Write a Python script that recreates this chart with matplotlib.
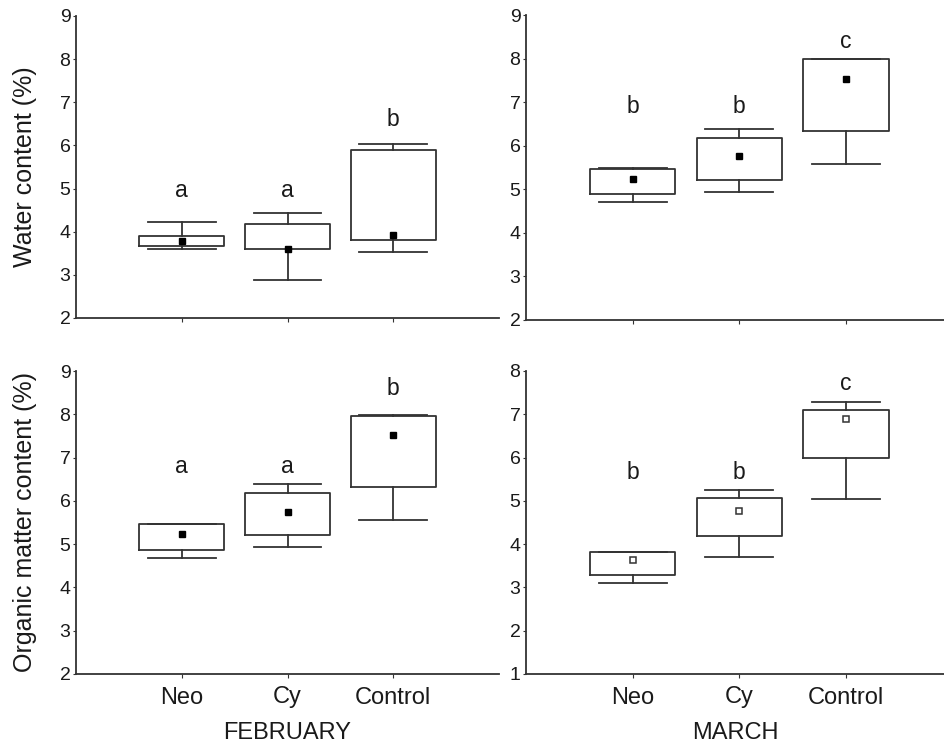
import matplotlib.pyplot as plt

plt.rcParams['font.family'] = ['Liberation Sans', 'DejaVu Sans']

groups = ["Neo", "Cy", "Control"]

# Feb water content
feb_w_lo = [3.61, 2.89, 3.52]
feb_w_q1 = [3.66, 3.59, 3.80]
feb_w_med = [3.79, 3.59, 3.93]
feb_w_q3 = [3.89, 4.19, 5.89]
feb_w_hi = [4.22, 4.44, 6.03]
feb_w_letters = ["a", "a", "b"]
feb_w_letter_y = [4.95, 4.95, 6.6]

# Mar water content
mar_w_lo = [4.70, 4.93, 5.58]
mar_w_q1 = [4.89, 5.22, 6.33]
mar_w_med = [5.24, 5.76, 7.52]
mar_w_q3 = [5.47, 6.18, 7.98]
mar_w_hi = [5.48, 6.39, 8.00]
mar_w_letters = ["b", "b", "c"]
mar_w_letter_y = [6.9, 6.9, 8.4]

# Feb organic matter
feb_o_lo = [4.69, 4.93, 5.56]
feb_o_q1 = [4.87, 5.22, 6.32]
feb_o_med = [5.24, 5.74, 7.51]
feb_o_q3 = [5.46, 6.17, 7.96]
feb_o_hi = [5.47, 6.38, 7.98]
feb_o_letters = ["a", "a", "b"]
feb_o_letter_y = [6.8, 6.8, 8.6]

# Mar organic matter
mar_o_lo = [3.10, 3.70, 5.04]
mar_o_q1 = [3.29, 4.19, 5.98]
mar_o_med = [3.63, 4.77, 6.89]
mar_o_q3 = [3.82, 5.07, 7.10]
mar_o_hi = [3.83, 5.26, 7.29]
mar_o_letters = ["b", "b", "c"]
mar_o_letter_y = [5.65, 5.65, 7.7]

c = "#333333"
tc = "#1a1a1a"
fig = plt.figure(figsize=(9.44, 7.49), dpi=100)


def panel(rect, xmax, lo, q1, med, q3, hi, letters, ly, ylim, ylabel, xlabel, filled):
    ax = fig.add_axes(rect)
    stats = []
    for i in range(3):
        stats.append(dict(whislo=lo[i], q1=q1[i], med=med[i], q3=q3[i], whishi=hi[i], fliers=[]))
    pos = [1, 2, 3]
    ax.bxp(stats, positions=pos, widths=0.8, showfliers=False,
           boxprops=dict(color=c, linewidth=1.3),
           whiskerprops=dict(color=c, linewidth=1.3),
           capprops=dict(color=c, linewidth=1.3),
           medianprops=dict(linewidth=0), capwidths=0.64)
    if filled:
        ax.plot(pos, med, "s", color="black", markersize=4.5, linestyle="none")
    else:
        ax.plot(pos, med, "s", markerfacecolor="white", markeredgecolor=c,
                markeredgewidth=1.1, markersize=4.5, linestyle="none")
    for i in range(3):
        ax.text(pos[i], ly[i], letters[i], ha="center", va="center", fontsize=16.5, color=tc)
    ax.set_xlim(0, xmax)
    ax.set_ylim(*ylim)
    ax.set_yticks(range(ylim[0], ylim[1] + 1))
    ax.set_xticks(pos)
    if xlabel:
        ax.set_xticklabels(groups, fontsize=17)
        ax.set_xlabel(xlabel, fontsize=17, labelpad=10, color=tc)
    else:
        ax.set_xticklabels([])
    if ylabel:
        ax.set_ylabel(ylabel, fontsize=18, labelpad=16, color=tc)
    ax.tick_params(axis="y", labelsize=14, length=2, pad=2, colors=c, labelcolor=tc)
    ax.tick_params(axis="x", length=3, pad=6, colors=c, labelcolor=tc)
    for s in ["top", "right"]:
        ax.spines[s].set_visible(False)
    for s in ["left", "bottom"]:
        ax.spines[s].set_color(c)
        ax.spines[s].set_linewidth(1.3)
    return ax


panel([76 / 944, 431 / 749, 423 / 944, 302 / 749], 4.0,
      feb_w_lo, feb_w_q1, feb_w_med, feb_w_q3, feb_w_hi, feb_w_letters, feb_w_letter_y,
      (2, 9), "Water content (%)", None, True)
panel([526 / 944, 429 / 749, 418 / 944, 305 / 749], 3.92,
      mar_w_lo, mar_w_q1, mar_w_med, mar_w_q3, mar_w_hi, mar_w_letters, mar_w_letter_y,
      (2, 9), None, None, True)
panel([76 / 944, 75 / 749, 423 / 944, 303 / 749], 4.0,
      feb_o_lo, feb_o_q1, feb_o_med, feb_o_q3, feb_o_hi, feb_o_letters, feb_o_letter_y,
      (2, 9), "Organic matter content (%)", "FEBRUARY", True)
panel([526 / 944, 75 / 749, 418 / 944, 303 / 749], 3.92,
      mar_o_lo, mar_o_q1, mar_o_med, mar_o_q3, mar_o_hi, mar_o_letters, mar_o_letter_y,
      (1, 8), None, "MARCH", False)

fig.savefig("out.png", dpi=100)
